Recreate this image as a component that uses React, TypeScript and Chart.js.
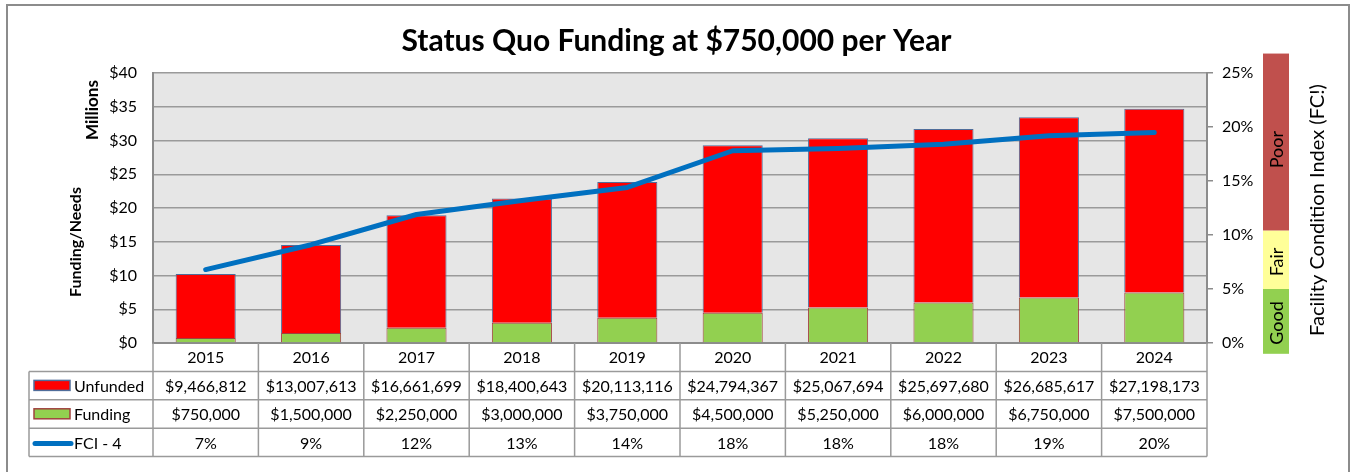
import React, { useEffect, useRef } from "react";
import { Chart, registerables } from "chart.js";

Chart.register(...registerables);

const years = ["2015", "2016", "2017", "2018", "2019", "2020", "2021", "2022", "2023", "2024"];
const unfunded = [9466812, 13007613, 16661699, 18400643, 20113116, 24794367, 25067694, 25697680, 26685617, 27198173];
const funding = [750000, 1500000, 2250000, 3000000, 3750000, 4500000, 5250000, 6000000, 6750000, 7500000];
const fci = [6.8, 9.1, 11.9, 13.2, 14.4, 17.8, 18.0, 18.4, 19.2, 19.5];
const leftTicks = [0, 5, 10, 15, 20, 25, 30, 35, 40];
const rightTicks = [0, 5, 10, 15, 20, 25];
const bands = [
  { label: "Poor", from: 10.4, to: 26.8, color: "#C0504D", textAt: 17.9 },
  { label: "Fair", from: 5, to: 10.4, color: "#FFFF99", textAt: 7.5 },
  { label: "Good", from: -1, to: 5, color: "#92D050", textAt: 1.85 },
];

const FONT = "Lato, 'Open Sans', sans-serif";
const money = (v: number) => "$" + v.toLocaleString("en-US");

const tablePlugin = {
  id: "excelTable",
  beforeDraw(chart: any) {
    const { ctx, chartArea: a } = chart;
    ctx.save();
    ctx.fillStyle = "#ffffff";
    ctx.fillRect(0, 0, chart.width, chart.height);
    ctx.strokeStyle = "#8c8c8c";
    ctx.lineWidth = 2;
    ctx.strokeRect(7, 5, 1342, 480);
    ctx.fillStyle = "#e6e6e6";
    ctx.fillRect(a.left, a.top, a.right - a.left, a.bottom - a.top);
    ctx.restore();
  },
  afterDraw(chart: any) {
    const { ctx, chartArea: a } = chart;
    const xs = chart.scales.x;
    const y1 = chart.scales.y1;
    const n = years.length;
    const cw = (xs.right - xs.left) / n;
    const rowH = 28.4;
    const hTop = a.bottom;
    const r1 = hTop + rowH;
    const r2 = r1 + rowH;
    const r3 = r2 + rowH;
    const r4 = r3 + rowH;
    const legLeft = 29;
    ctx.save();
    ctx.strokeStyle = "#9a9a9a";
    ctx.lineWidth = 1.5;
    ctx.beginPath();
    for (let i = 0; i <= n; i++) {
      const x = xs.left + i * cw;
      ctx.moveTo(x, hTop);
      ctx.lineTo(x, r4);
    }
    [r1, r2, r3, r4].forEach((y) => {
      ctx.moveTo(legLeft, y);
      ctx.lineTo(xs.right, y);
    });
    ctx.moveTo(legLeft, r1);
    ctx.lineTo(legLeft, r4);
    ctx.stroke();

    ctx.fillStyle = "#000";
    ctx.font = "16px " + FONT;
    ctx.textAlign = "center";
    ctx.textBaseline = "middle";
    for (let i = 0; i < n; i++) {
      const cx = xs.getPixelForValue(i);
      ctx.fillText(years[i], cx, hTop + rowH / 2 + 1);
      ctx.fillText(money(unfunded[i]), cx, r1 + rowH / 2 + 1);
      ctx.fillText(money(funding[i]), cx, r2 + rowH / 2 + 1);
      ctx.fillText(Math.round(fci[i]) + "%", cx, r3 + rowH / 2 + 1);
    }
    ctx.textAlign = "left";
    ctx.lineWidth = 1.5;
    ctx.fillStyle = "#FF0000";
    ctx.fillRect(34, r1 + 9, 36, 10);
    ctx.strokeStyle = "#4F6D9A";
    ctx.strokeRect(34, r1 + 9, 36, 10);
    ctx.fillStyle = "#92D050";
    ctx.fillRect(34, r2 + 9, 36, 10);
    ctx.strokeStyle = "#A0413E";
    ctx.strokeRect(34, r2 + 9, 36, 10);
    ctx.strokeStyle = "#0070C0";
    ctx.lineWidth = 5;
    ctx.lineCap = "round";
    ctx.beginPath();
    ctx.moveTo(35, r3 + rowH / 2 + 1);
    ctx.lineTo(71, r3 + rowH / 2 + 1);
    ctx.stroke();
    ctx.fillStyle = "#000";
    ctx.fillText("Unfunded", 74, r1 + rowH / 2 + 1);
    ctx.fillText("Funding", 74, r2 + rowH / 2 + 1);
    ctx.fillText("FCI - 4", 74, r3 + rowH / 2 + 1);

    const bx = 1263;
    const bw = 26;
    bands.forEach((b) => {
      const top = y1.getPixelForValue(b.to);
      const bot = y1.getPixelForValue(b.from);
      ctx.fillStyle = b.color;
      ctx.fillRect(bx, top, bw, bot - top);
    });
    ctx.fillStyle = "#000";
    ctx.font = "18px " + FONT;
    ctx.textAlign = "center";
    bands.forEach((b) => {
      ctx.save();
      ctx.translate(bx + bw / 2 + 1, y1.getPixelForValue(b.textAt));
      ctx.rotate(-Math.PI / 2);
      ctx.fillText(b.label, 0, 0);
      ctx.restore();
    });

    const rot = (text: string, x: number, y: number, font: string) => {
      ctx.save();
      ctx.translate(x, y);
      ctx.rotate(-Math.PI / 2);
      ctx.font = font;
      ctx.textAlign = "center";
      ctx.textBaseline = "middle";
      ctx.fillStyle = "#000";
      ctx.fillText(text, 0, 0);
      ctx.restore();
    };
    rot("Millions", 93, 110, "bold 17px " + FONT);
    rot("Funding/Needs", 76, 242, "bold 16px " + FONT);
    rot("Facility Condition Index (FC!)", 1318, 210, "20px " + FONT);
    ctx.restore();
  },
};

export default function App() {
  const ref = useRef<HTMLCanvasElement | null>(null);
  useEffect(() => {
    if (!ref.current) return;
    const chart = new Chart(ref.current, {
      data: {
        labels: years,
        datasets: [
          {
            type: "line" as const,
            label: "FCI - 4",
            data: fci,
            yAxisID: "y1",
            borderColor: "#0070C0",
            borderWidth: 5,
            pointRadius: 0,
            tension: 0,
            borderCapStyle: "round" as const,
            borderJoinStyle: "round" as const,
            order: 0,
          },
          {
            type: "bar" as const,
            label: "Funding",
            data: funding.map((v) => v / 1e6),
            yAxisID: "y",
            backgroundColor: "#92D050",
            borderColor: "#A0413E",
            borderWidth: 1,
            order: 1,
            stack: "s",
          },
          {
            type: "bar" as const,
            label: "Unfunded",
            data: unfunded.map((v) => v / 1e6),
            yAxisID: "y",
            backgroundColor: "#FF0000",
            borderColor: "#4F6D9A",
            borderWidth: 1,
            order: 1,
            stack: "s",
          },
        ],
      },
      options: {
        animation: false,
        responsive: false,
        layout: { padding: 0 },
        datasets: { bar: { categoryPercentage: 1, barPercentage: 0.57 } },
        font: { family: FONT },
        plugins: {
          legend: { display: false },
          tooltip: { enabled: false },
          title: {
            display: true,
            text: "Status Quo Funding at $750,000 per Year",
            color: "#000",
            font: { family: FONT, size: 30, weight: "bold" },
            padding: { top: 23, bottom: 14 },
          },
        },
        scales: {
          x: {
            stacked: true,
            ticks: { display: false },
            grid: { display: false },
            border: { display: true, color: "#8c8c8c", width: 2 },
            afterFit: (s: any) => {
              s.height = 129;
            },
          },
          y: {
            stacked: true,
            position: "left",
            min: 0,
            max: 40,
            afterBuildTicks: (s: any) => {
              s.ticks = leftTicks.map((v) => ({ value: v }));
            },
            ticks: {
              callback: (v: any) => "$" + v,
              color: "#000",
              font: { family: FONT, size: 16 },
              padding: 16,
            },
            grid: { color: "#9a9a9a", lineWidth: 1.5, drawTicks: false },
            border: { display: true, color: "#8c8c8c", width: 2 },
            afterFit: (s: any) => {
              s.width = 153;
            },
          },
          y1: {
            position: "right",
            min: 0,
            max: 25,
            afterBuildTicks: (s: any) => {
              s.ticks = rightTicks.map((v) => ({ value: v }));
            },
            ticks: {
              callback: (v: any) => v + "%",
              color: "#000",
              font: { family: FONT, size: 16 },
              padding: 9,
            },
            grid: { drawOnChartArea: false, drawTicks: true, tickLength: 6, color: "#8c8c8c", lineWidth: 1.5 },
            border: { display: true, color: "#8c8c8c", width: 2 },
            afterFit: (s: any) => {
              s.width = 146;
            },
          },
        },
      } as any,
      plugins: [tablePlugin],
    });
    return () => chart.destroy();
  }, []);
  return (
    <div style={{ position: "absolute", left: 0, top: 0, width: 1353, height: 472, background: "#fff" }}>
      <canvas ref={ref} width={1353} height={472} style={{ display: "block" }} />
    </div>
  );
}
